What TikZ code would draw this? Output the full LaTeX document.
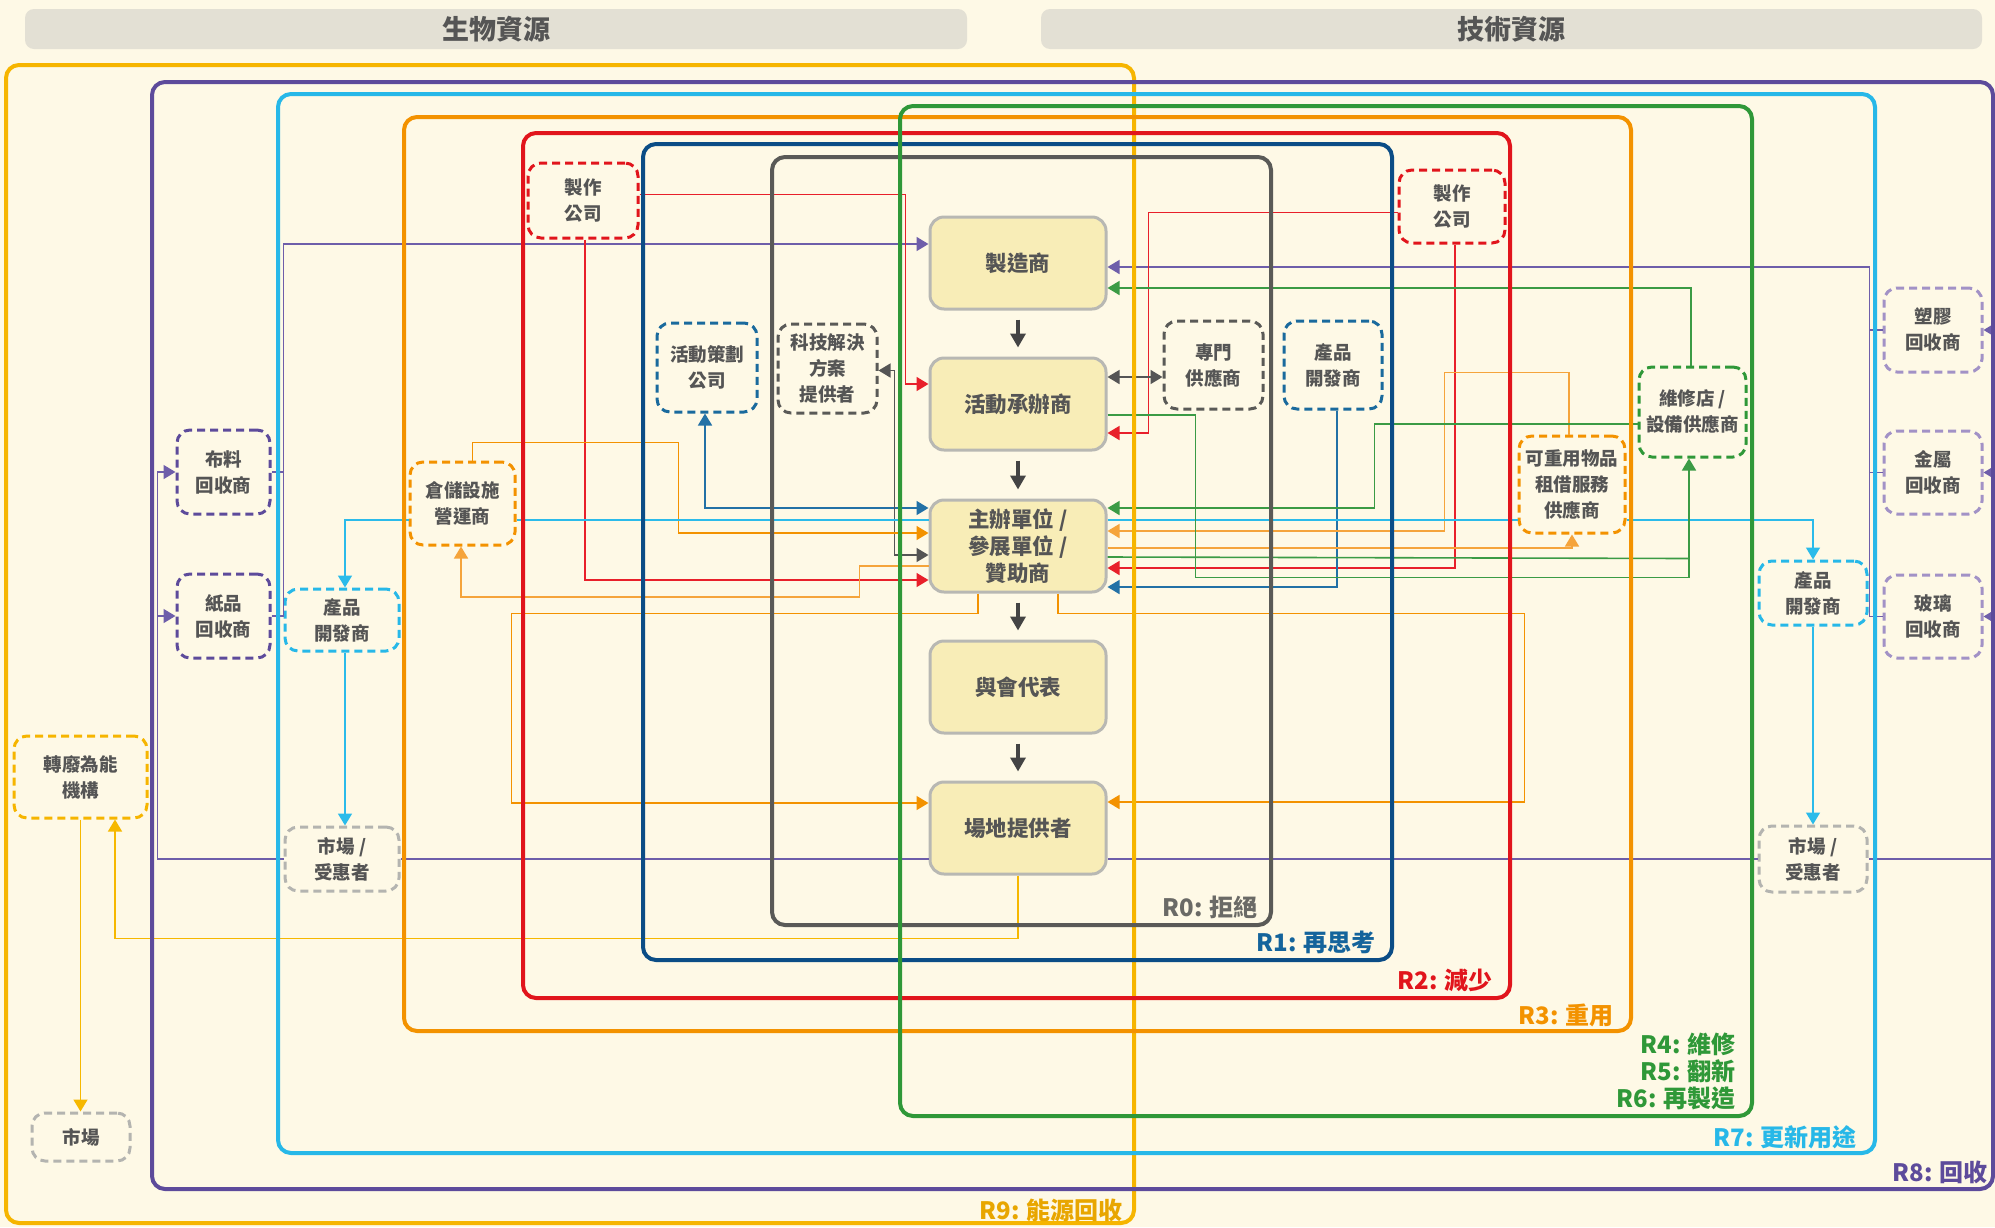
\documentclass[tikz,border=0pt]{standalone}
\usepackage{fontspec}
\setmainfont{Noto Sans CJK TC}
\usetikzlibrary{arrows.meta,calc}
\definecolor{bg}{HTML}{FEF9E6}
\definecolor{hdrc}{HTML}{E3E0D4}
\definecolor{txt}{HTML}{555555}
\definecolor{c9}{HTML}{F6B500}
\definecolor{c9t}{HTML}{E8A600}
\definecolor{c8}{HTML}{5D4B9B}
\definecolor{c7}{HTML}{27B8E8}
\definecolor{c4}{HTML}{2F9838}
\definecolor{c3}{HTML}{F39200}
\definecolor{c2}{HTML}{E1151C}
\definecolor{c1}{HTML}{0B4D86}
\definecolor{c1t}{HTML}{14649C}
\definecolor{c0}{HTML}{5A5A57}
\definecolor{c0t}{HTML}{6A6A66}
\definecolor{mfill}{HTML}{F8EDB7}
\definecolor{mborder}{HTML}{B8B8B3}
\definecolor{marrc}{HTML}{444444}
\definecolor{dblue}{HTML}{1A6A9D}
\definecolor{lpurple}{HTML}{A292C6}
\definecolor{mgrey}{HTML}{B4B4B0}
\definecolor{lP}{HTML}{6E5EAA}
\definecolor{lR}{HTML}{E8202A}
\definecolor{lB}{HTML}{2371A6}
\definecolor{lG}{HTML}{555555}
\definecolor{lO}{HTML}{F39200}
\definecolor{lLO}{HTML}{F5A43B}
\definecolor{lLB}{HTML}{2BBBEA}
\definecolor{lGr}{HTML}{3B9B45}
\definecolor{lY}{HTML}{F6B800}
\begin{document}
\begin{tikzpicture}[x=1pt,y=-1pt,
 rbox/.style={line width=4pt, rounded corners=13pt},
 rlab/.style={anchor=east, font=\fontsize{24}{27}\selectfont\bfseries, inner sep=0pt, align=right},
 mnode/.style={draw=mborder, line width=3pt, fill=mfill, rounded corners=14pt, minimum width=176pt, minimum height=92pt, align=center, text=txt, inner sep=0pt, font=\fontsize{21.5}{27}\selectfont\bfseries},
 dnode/.style={line width=3pt, dash pattern=on 8pt off 5pt, rounded corners=13pt, fill=bg, align=center, text=txt, inner sep=0pt, font=\fontsize{18.5}{26}\selectfont\bfseries},
 ln/.style={line width=1.6pt},
 arr/.style={-{Triangle[length=12pt,width=14pt]}},
 arrs/.style={{Triangle[length=12pt,width=14pt]}-{Triangle[length=12pt,width=14pt]}},
 marr/.style={line width=4.5pt, draw=marrc, -{Triangle[length=14pt,width=15pt]}, shorten <=9pt, shorten >=9pt},
 hdr/.style={fill=hdrc, rounded corners=9pt, minimum height=40pt, inner sep=0pt, text=txt, font=\fontsize{27}{30}\selectfont\bfseries}
]
\useasboundingbox (0,0) rectangle (1995,1227);
\fill[bg] (0,0) rectangle (1995,1227);

% headers
\node[hdr, minimum width=942pt] (hbio) at (496,29) {生物資源};
\node[hdr, minimum width=941pt] (htech) at (1511.5,29) {技術資源};

% main nodes
\node[mnode] (M1) at (1018,263) {製造商};
\node[mnode] (M2) at (1018,404) {活動承辦商};
\node[mnode] (M3) at (1018,546) {主辦單位 /\\參展單位 /\\贊助商};
\node[mnode] (M4) at (1018,687) {與會代表};
\node[mnode] (M5) at (1018,828) {場地提供者};

% dashed nodes
\node[dnode, draw=c2, minimum width=110pt, minimum height=75pt] (mfgL) at (583,200.5) {製作\\公司};
\node[dnode, draw=dblue, minimum width=100pt, minimum height=89pt] (plan) at (707,367.5) {活動策劃\\公司};
\node[dnode, draw=c0, minimum width=99pt, minimum height=89pt] (tech) at (827.5,368.5) {科技解決\\方案\\提供者};
\node[dnode, draw=c8, minimum width=93pt, minimum height=84pt] (cloth) at (223.5,472) {布料\\回收商};
\node[dnode, draw=c8, minimum width=93pt, minimum height=84pt] (paper) at (223.5,616) {紙品\\回收商};
\node[dnode, draw=c3, minimum width=105pt, minimum height=83pt] (store) at (462.5,503.5) {倉儲設施\\營運商};
\node[dnode, draw=c7, minimum width=114pt, minimum height=62pt] (devL) at (342,620) {產品\\開發商};
\node[dnode, draw=c9, minimum width=133pt, minimum height=82pt] (wte) at (80.5,777) {轉廢為能\\機構};
\node[dnode, draw=mgrey, minimum width=98pt, minimum height=48pt] (mkt) at (81,1137) {市場};
\node[dnode, draw=mgrey, minimum width=114pt, minimum height=64pt] (benL) at (342,859) {市場 /\\受惠者};
\node[dnode, draw=c2, minimum width=106pt, minimum height=73pt] (mfgR) at (1452,206.5) {製作\\公司};
\node[dnode, draw=c0, minimum width=99pt, minimum height=88pt] (spec) at (1213.5,365) {專門\\供應商};
\node[dnode, draw=dblue, minimum width=98pt, minimum height=88pt] (devB) at (1333,365) {產品\\開發商};
\node[dnode, draw=c4, minimum width=107pt, minimum height=90pt] (repair) at (1692.5,412) {維修店 /\\設備供應商};
\node[dnode, draw=c3, minimum width=106pt, minimum height=97pt] (rent) at (1572,484.5) {可重用物品\\租借服務\\供應商};
\node[dnode, draw=lpurple, minimum width=98pt, minimum height=84pt] (plastic) at (1933,330) {塑膠\\回收商};
\node[dnode, draw=lpurple, minimum width=98pt, minimum height=83pt] (metal) at (1933,472.5) {金屬\\回收商};
\node[dnode, draw=lpurple, minimum width=98pt, minimum height=83pt] (glass) at (1933,616.5) {玻璃\\回收商};
\node[dnode, draw=c7, minimum width=108pt, minimum height=64pt] (devR) at (1813,593) {產品\\開發商};
\node[dnode, draw=mgrey, minimum width=108pt, minimum height=66pt] (benR) at (1813,859) {市場 /\\受惠者};

% ---------- connectors ----------
% purple
\draw[ln, lP, arr] (benL.west) -| ($(cloth.west)+(-18,0)$) -- (cloth.west);
\draw[ln, lP, arr] ($(paper.west)+(-18,0)$) -- (paper.west);
\draw[ln, lP] (cloth.east) -- ++(12,0);
\draw[ln, lP, arr] (paper.east) -- ++(12,0) |- ($(M1.west)+(0,-19)$);
\draw[ln, lP] (benL.east) -- (benL.east -| M5.west);
\draw[ln, lP] (benR.west) -- (benR.west -| M5.east);
\draw[ln, lP] (benR.east) -| ($(plastic.east)+(22,0)$);
\draw[ln, lP, arr] ($(plastic.east)+(22,0)$) -- (plastic.east);
\draw[ln, lP, arr] ($(metal.east)+(22,0)$) -- (metal.east);
\draw[ln, lP, arr] ($(glass.east)+(22,0)$) -- (glass.east);
\draw[ln, lP, arr] (plastic.west) -- ++(-13,0) |- ($(M1.east)+(0,4)$);
\draw[ln, lP] (metal.west) -- ++(-13,0);
\draw[ln, lP] (glass.west) -- ++(-13,0) -- ($(plastic.west)+(-13,0)$);
% red
\draw[ln, lR, arr] ($(mfgL.east)+(0,-6)$) -| ($(M2.west)+(-23,-20)$) -- ($(M2.west)+(0,-20)$);
\draw[ln, lR, arr] ($(mfgL.south)+(2,0)$) |- ($(M3.west)+(0,34)$);
\draw[ln, lR, arr] ($(mfgR.west)+(0,6)$) -| ($(M2.east)+(41,29)$) -- ($(M2.east)+(0,29)$);
\draw[ln, lR, arr] ($(mfgR.south)+(3,0)$) |- ($(M3.east)+(0,22)$);
% dark blue
\draw[ln, lB, arrs] ($(plan.south)+(-2,0)$) |- ($(M3.west)+(0,-38)$);
\draw[ln, lB, arr] ($(devB.south)+(4,0)$) |- ($(M3.east)+(0,41)$);
% grey
\draw[ln, lG, arrs] ($(tech.east)+(0,2)$) -- ++(16,0) |- ($(M3.west)+(0,9)$);
\draw[ln, lG, arrs] ($(M2.east)+(0,-27)$) -- ($(spec.west)+(0,12)$);
% orange
\draw[ln, lO, arr] ($(store.north)+(10,0)$) -- ++(0,-18) -| ($(M3.west)+(-250,-13)$) -- ($(M3.west)+(0,-13)$);
\draw[ln, lO, arr] ($(M3.south)+(-40,0)$) -- ++(0,20) -| ($(M5.west)+(-417,-25)$) -- ($(M5.west)+(0,-25)$);
\draw[ln, lO, arr] ($(M3.south)+(40,0)$) -- ++(0,20) -| ($(M5.east)+(417,-26)$) -- ($(M5.east)+(0,-26)$);
% light orange
\draw[ln, lLO, arr] ($(M3.west)+(0,20)$) -- ++(-69,0) -- ++(0,31) -| ($(store.south)+(-1.5,0)$);
\draw[ln, lLO, arr] ($(rent.north)+(-3,0)$) -- ++(0,-62) -| ($(M3.east)+(337,-15)$) -- ($(M3.east)+(0,-15)$);
\draw[ln, lLO, arr] ($(M3.east)+(0,2)$) -| (rent.south);
% light blue
\draw[ln, lLB] ($(store.east)+(0,16.5)$) -- ($(M3.west)+(0,-26)$);
\draw[ln, lLB, arr] ($(store.west)+(0,16.5)$) -| ($(devL.north)+(3,0)$);
\draw[ln, lLB] ($(M3.east)+(0,-26)$) -- ($(rent.west)+(0,35.5)$);
\draw[ln, lLB, arr] ($(rent.east)+(0,35.5)$) -| (devR.north);
\draw[ln, lLB, arr] ($(devL.south)+(3,0)$) -- ($(benL.north)+(3,0)$);
\draw[ln, lLB, arr] (devR.south) -- (benR.north);
% green
\draw[ln, lGr, arr] ($(repair.north)+(-1.5,0)$) |- ($(M1.east)+(0,25)$);
\draw[ln, lGr, arr] ($(repair.west)+(0,12)$) -- ++(-263,0) |- ($(M3.east)+(0,-38)$);
\draw[ln, lGr, arr] ($(M2.east)+(0,11)$) -- ++(88,0) |- ($(repair.south)+(-3.5,119)$) -- ($(repair.south)+(-3.5,0)$);
\draw[ln, lGr] ($(M3.east)+(0,11)$) -- ($(repair.south)+(-3.5,100)$);
% yellow
\draw[ln, lY, arr] (M5.south) -- ++(0,63) -| ($(wte.south)+(34.5,0)$);
\draw[ln, lY, arr] (wte.south) -- (wte.south |- mkt.north);

% ---------- R boxes ----------
\draw[rbox, c9] (6,65) rectangle (1134,1223);
\draw[rbox, c8] (152,82) rectangle (1993,1189);
\draw[rbox, c7] (278,94) rectangle (1875,1153);
\draw[rbox, c3] (404,117) rectangle (1631,1031);
\draw[rbox, c2] (523,133) rectangle (1510,998);
\draw[rbox, c1] (643,144) rectangle (1392,960);
\draw[rbox, c0] (772,157) rectangle (1271,925);
\draw[rbox, c4] (900,106) rectangle (1752,1116);

\node[rlab, text=c0t] (L0) at (1258,907) {R0: 拒絕};
\node[rlab, text=c1t] (L1) at (1376,942) {R1: 再思考};
\node[rlab, text=c2] (L2) at (1493,980) {R2: 減少};
\node[rlab, text=c3] (L3) at (1614,1015) {R3: 重用};
\node[rlab, text=c4] (L4) at (1736,1071) {R4: 維修\\R5: 翻新\\R6: 再製造};
\node[rlab, text=c7] (L7) at (1857,1137) {R7: 更新用途};
\node[rlab, text=c8] (L8) at (1988,1172) {R8: 回收};
\node[rlab, text=c9t] (L9) at (1123,1210) {R9: 能源回收};

% main flow arrows
\draw[marr] (M1) -- (M2);
\draw[marr] (M2) -- (M3);
\draw[marr] (M3) -- (M4);
\draw[marr] (M4) -- (M5);
\end{tikzpicture}
\end{document}
